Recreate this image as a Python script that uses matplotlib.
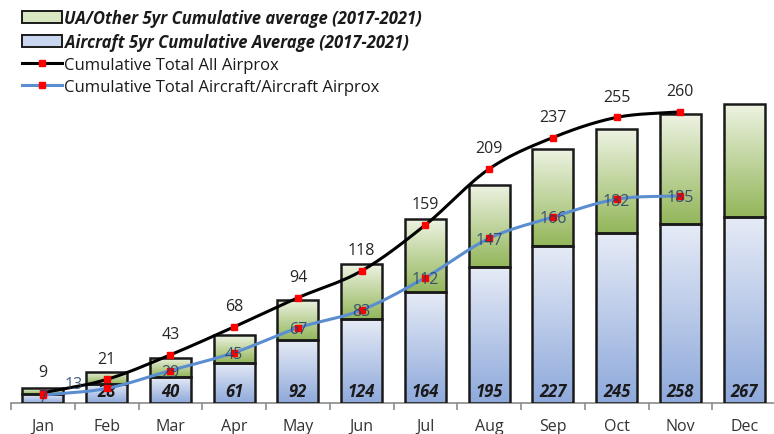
import numpy as np
import matplotlib
matplotlib.use("Agg")
import matplotlib.pyplot as plt
from matplotlib.colors import LinearSegmentedColormap
from matplotlib.patches import Patch
from matplotlib.lines import Line2D

plt.rcParams['font.family'] = ['Open Sans', 'DejaVu Sans']

# data
months = ["Jan", "Feb", "Mar", "Apr", "May", "Jun", "Jul", "Aug", "Sep", "Oct", "Nov", "Dec"]
aircraft_avg = [8, 17, 23, 36, 56, 75, 99, 121, 140, 152, 160, 166]
total_avg = [13, 28, 40, 61, 92, 124, 164, 195, 227, 245, 258, 267]
ua_other_avg = [t - a for t, a in zip(total_avg, aircraft_avg)]
all_airprox = [9, 21, 43, 68, 94, 118, 159, 209, 237, 255, 260]
ac_ac_airprox = [7, 13, 29, 45, 67, 83, 112, 147, 166, 182, 185]


def smooth(xs, ys, n=24):
    # catmull-rom curve through the points (like excel's smoothed line)
    xs = np.asarray(xs, float)
    ys = np.asarray(ys, float)
    px = np.concatenate([[2 * xs[0] - xs[1]], xs, [2 * xs[-1] - xs[-2]]])
    py = np.concatenate([[2 * ys[0] - ys[1]], ys, [2 * ys[-1] - ys[-2]]])
    ox, oy = [], []
    t = np.linspace(0, 1, n, endpoint=False)
    for i in range(1, len(px) - 2):
        for p, o in ((px, ox), (py, oy)):
            p0, p1, p2, p3 = p[i - 1], p[i], p[i + 1], p[i + 2]
            o.extend(0.5 * ((2 * p1) + (-p0 + p2) * t + (2 * p0 - 5 * p1 + 4 * p2 - p3) * t ** 2
                            + (-p0 + 3 * p1 - 3 * p2 + p3) * t ** 3))
    ox.append(xs[-1])
    oy.append(ys[-1])
    return np.array(ox), np.array(oy)


fig = plt.figure(figsize=(7.74, 4.35), dpi=100)
ax = fig.add_axes([11 / 774, 31 / 435, 765 / 774, 404 / 435])
x = np.arange(len(months))
width = 0.645

blue_cmap = LinearSegmentedColormap.from_list("b", ["#8EA9DB", "#E6EBF6"])
green_cmap = LinearSegmentedColormap.from_list("g", ["#93B65A", "#EEF3E3"])
grad = np.linspace(0, 1, 256).reshape(-1, 1)

bars_a = ax.bar(x, aircraft_avg, width, facecolor="none", edgecolor="#1a1a1a", linewidth=1.8, zorder=3)
bars_u = ax.bar(x, ua_other_avg, width, bottom=aircraft_avg, facecolor="none", edgecolor="#1a1a1a",
                linewidth=1.8, zorder=3)
for bars, cmap in ((bars_a, blue_cmap), (bars_u, green_cmap)):
    for b in bars:
        x0, y0 = b.get_x(), b.get_y()
        im = ax.imshow(grad, extent=[x0, x0 + b.get_width(), y0, y0 + b.get_height()],
                       origin="lower", cmap=cmap, aspect="auto", zorder=2)
        im.set_clip_path(b)

# bar totals at the bottom of the bars (Jan label is hidden in the original)
for i, t in enumerate(total_avg):
    if i == 0:
        continue
    ax.annotate(str(t), (x[i], 0), xytext=(0, 8.5), textcoords="offset points", ha="center", va="center",
                fontsize=12, fontweight="bold", fontstyle="italic", color="#1a1a1a", zorder=5)

# lines
lx = x[:len(all_airprox)]
sx, sy = smooth(lx, all_airprox)
ax.plot(sx, sy, color="black", linewidth=2.2, zorder=6)
ax.plot(lx, all_airprox, linestyle="none", marker="s", markersize=4, color="#FF0000", zorder=7)
sx, sy = smooth(lx, ac_ac_airprox)
ax.plot(sx, sy, color="#5B8ED0", linewidth=2.2, zorder=6)
ax.plot(lx, ac_ac_airprox, linestyle="none", marker="s", markersize=4, color="#FF0000", zorder=7)

for i, v in enumerate(all_airprox):
    ax.annotate(str(v), (lx[i], v), xytext=(0, 15), textcoords="offset points", ha="center", va="center",
                fontsize=11.5, color="#262626", zorder=8)
for i, v in enumerate(ac_ac_airprox):
    off = (-24, 3) if i == 1 else (0, -1)
    ax.annotate(str(v), (lx[i], v), xytext=off, textcoords="offset points", ha="center", va="center",
                fontsize=11.5, color="#24406A", alpha=0.85, zorder=8)

ax.set_xlim(-0.5, 11.5)
ax.set_ylim(0, 404 / 1.12)
ax.set_yticks([])
for s in ("left", "top", "right"):
    ax.spines[s].set_visible(False)
ax.spines["bottom"].set_color("#8c8c8c")
ax.spines["bottom"].set_linewidth(1.2)
ax.set_xticks(x)
ax.set_xticklabels(months, fontsize=11.5, color="#333333")
ax.tick_params(axis="x", which="major", length=0, pad=11)
ax.set_xticks(np.arange(-0.5, 12, 1), minor=True)
ax.tick_params(axis="x", which="minor", length=5, color="#8c8c8c", width=1.2)

handles = [
    Patch(facecolor="#D9E6C2", edgecolor="#1a1a1a", linewidth=1.4),
    Patch(facecolor="#C9D6EF", edgecolor="#1a1a1a", linewidth=1.4),
    Line2D([], [], color="black", linewidth=2.2, marker="s", markersize=4,
           markerfacecolor="#FF0000", markeredgecolor="#FF0000"),
    Line2D([], [], color="#5B8ED0", linewidth=2.2, marker="s", markersize=4,
           markerfacecolor="#FF0000", markeredgecolor="#FF0000"),
]
labels = ["UA/Other 5yr Cumulative average (2017-2021)", "Aircraft 5yr Cumulative Average (2017-2021)",
          "Cumulative Total All Airprox", "Cumulative Total Aircraft/Aircraft Airprox"]
leg = ax.legend(handles, labels, loc="upper left", bbox_to_anchor=(22 / 774, 1 - 10 / 435),
                bbox_transform=fig.transFigure, frameon=False, fontsize=12, handlelength=2.4,
                handleheight=0.75, handletextpad=0.15, labelspacing=0.36, borderaxespad=0, borderpad=0)
for t in leg.get_texts()[:2]:
    t.set_fontweight("bold")
    t.set_fontstyle("italic")
for t in leg.get_texts():
    t.set_color("#1a1a1a")

fig.savefig("out.png", dpi=100)
